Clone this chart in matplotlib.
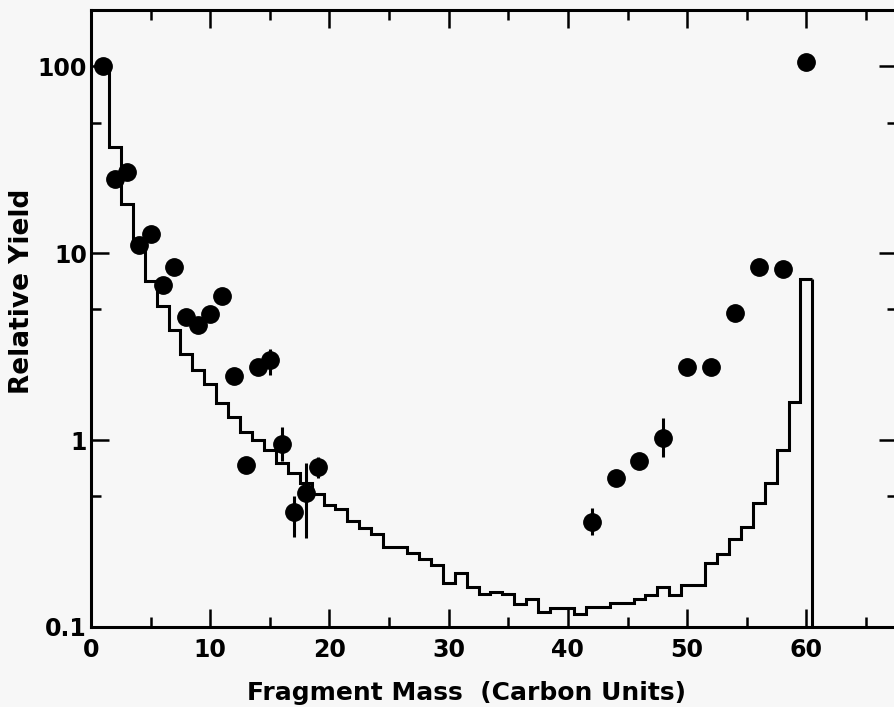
import numpy as np
import matplotlib
matplotlib.use("Agg")
import matplotlib.pyplot as plt
from matplotlib.ticker import FixedLocator, FixedFormatter, NullFormatter

# ---- data ----
# histogram (calculation), one value per fragment mass 1..60
hist_mass = list(range(1, 61))
hist_yield = [100, 37, 18.3, 11.5, 7.1, 5.2, 3.9, 2.9, 2.37, 2.0,
              1.57, 1.33, 1.11, 1.0, 0.885, 0.75, 0.67, 0.586, 0.515, 0.449,
              0.427, 0.37, 0.34, 0.313, 0.269, 0.267, 0.248, 0.230, 0.215, 0.173,
              0.195, 0.164, 0.150, 0.153, 0.150, 0.133, 0.141, 0.121, 0.127, 0.127,
              0.118, 0.128, 0.128, 0.134, 0.134, 0.141, 0.148, 0.164, 0.148, 0.167,
              0.167, 0.219, 0.246, 0.296, 0.341, 0.459, 0.587, 0.885, 1.60, 7.32]

# measured points
pt_mass = [1, 2, 3, 4, 5, 6, 7, 8, 9, 10, 11, 12, 13, 14, 15, 16, 17, 18, 19,
           42, 44, 46, 48, 50, 52, 54, 56, 58, 60]
pt_yield = [100, 25, 27.2, 11.0, 12.7, 6.75, 8.4, 4.56, 4.12, 4.7, 5.9, 2.2, 0.735,
            2.47, 2.68, 0.95, 0.41, 0.52, 0.714,
            0.366, 0.624, 0.775, 1.03, 2.45, 2.45, 4.76, 8.45, 8.2, 106]
pt_err_lo = [0, 0, 0, 0, 0, 0, 0, 0, 0, 0, 0, 0, 0, 0, 0.45, 0.18, 0.106, 0.22, 0.09,
             0.056, 0, 0, 0.22, 0, 0, 0, 0, 0, 0]
pt_err_hi = [0, 0, 0, 0, 0, 0, 0, 0, 0, 0, 0, 0, 0, 0, 0.41, 0.23, 0.09, 0.23, 0.10,
             0.065, 0, 0, 0.28, 0, 0, 0, 0, 0, 0]

x_major = [0, 10, 20, 30, 40, 50, 60]
x_labels = ['0', '10', '20', '30', '40', '50', '60']
x_minor = [5, 15, 25, 35, 45, 55, 65]
y_major = [0.1, 1, 10, 100]
y_labels = ['0.1', '1', '10', '100']
y_minor = [0.5, 5, 50]

BG = '#f7f7f7'
W, H = 895, 707
fig = plt.figure(figsize=(W / 100, H / 100), dpi=100, facecolor=BG)
ax = fig.add_axes([91 / W, 80 / H, (897 - 91) / W, (697 - 80) / H], facecolor=BG)

ax.set_yscale('log')
ax.set_xlim(0, 67.6)
ax.set_ylim(0.1, 200)

# histogram
edges = np.arange(len(hist_yield) + 1) + 0.5
ax.stairs(hist_yield, edges, baseline=None, color='black', linewidth=2.2)
ax.vlines(edges[-1], 0.1, hist_yield[-1], color='black', linewidth=2.2)

# data points
ax.errorbar(pt_mass, pt_yield, yerr=[pt_err_lo, pt_err_hi], fmt='o', color='black',
            markersize=12.5, elinewidth=2.2, capsize=0, zorder=3)

# ticks
ax.xaxis.set_major_locator(FixedLocator(x_major))
ax.xaxis.set_major_formatter(FixedFormatter(x_labels))
ax.xaxis.set_minor_locator(FixedLocator(x_minor))
ax.yaxis.set_major_locator(FixedLocator(y_major))
ax.yaxis.set_major_formatter(FixedFormatter(y_labels))
ax.yaxis.set_minor_locator(FixedLocator(y_minor))
ax.yaxis.set_minor_formatter(NullFormatter())

ax.tick_params(which='both', direction='in', top=True, right=True, width=1.8, color='black')
ax.tick_params(which='major', length=13)
ax.tick_params(which='minor', length=7)
ax.tick_params(axis='x', which='major', pad=8, labelsize=17)
ax.tick_params(axis='y', which='major', pad=3, labelsize=17)
for lab in ax.get_xticklabels() + ax.get_yticklabels():
    lab.set_fontweight('bold')
    lab.set_family('DejaVu Sans')

for s in ax.spines.values():
    s.set_linewidth(2.2)

fig.text(467 / W, 1 - 693 / H, 'Fragment Mass  (Carbon Units)', ha='center', va='center',
         fontsize=18, fontweight='bold', family='DejaVu Sans')
fig.text(22 / W, 1 - 291 / H, 'Relative Yield', ha='center', va='center', rotation=90,
         fontsize=19, fontweight='bold', family='DejaVu Sans')

fig.savefig('out.png', dpi=100, facecolor=BG)
